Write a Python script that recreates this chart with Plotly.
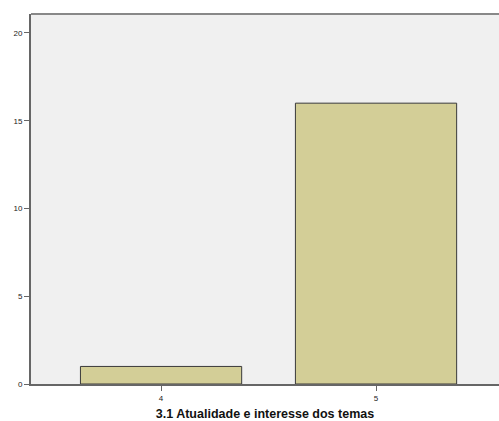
import plotly.graph_objects as go

categories = [4, 5]
counts = [1, 16]
y_ticks = [0, 5, 10, 15, 20]

fig = go.Figure(go.Bar(
    x=categories, y=counts, width=0.75,
    marker=dict(color="#D3CE97", line=dict(color="#3a3a3a", width=1)),
))

fig.update_layout(
    width=499, height=421,
    margin=dict(l=31, r=0, t=14, b=37),
    paper_bgcolor="white", plot_bgcolor="#F0F0F0",
    showlegend=False,
    font=dict(family="Arial, Liberation Sans, sans-serif", size=9, color="#222"),
)
fig.update_xaxes(
    range=[3.395, 5.572], tickvals=categories, ticktext=[str(c) for c in categories],
    showgrid=False, zeroline=False, showline=True, linecolor="#666", linewidth=2,
    ticks="outside", ticklen=5, tickcolor="#666", tickwidth=1,
    tickfont=dict(size=8, color="#222"),
    title=dict(text="<b>3.1 Atualidade e interesse dos temas</b>", font=dict(size=12.5, color="#111"), standoff=9),
)
fig.update_yaxes(
    range=[0, 21.08], tickvals=y_ticks, showgrid=False, zeroline=False,
    showline=True, linecolor="#666", linewidth=2,
    ticks="outside", ticklen=5, tickcolor="#666", tickwidth=1,
    tickfont=dict(size=8, color="#222"),
)
fig.add_shape(type="line", xref="paper", yref="paper", x0=0, x1=1, y0=1, y1=1,
              line=dict(color="#888", width=2))
fig.write_html("out.html", config={"displayModeBar": False},
               post_script="document.body.style.margin='0';document.body.style.overflow='hidden';")
